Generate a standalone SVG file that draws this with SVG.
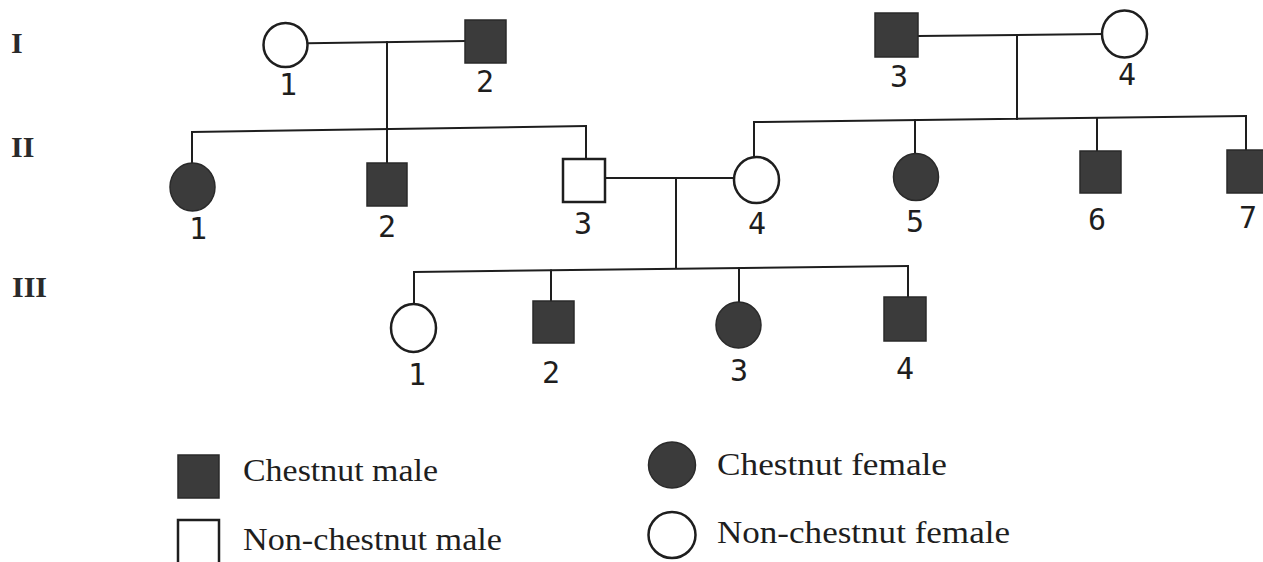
<svg xmlns="http://www.w3.org/2000/svg" width="1263" height="562" viewBox="0 0 1263 562">
<style>
.bg{fill:#ffffff}
.ln{stroke:#1e1e1e;stroke-width:2;fill:none;stroke-linecap:square}
.aff{fill:#3b3b3b;stroke:#2a2a2a;stroke-width:1.5}
.unf{fill:#ffffff;stroke:#1e1e1e;stroke-width:2.5}
.num{font-family:"DejaVu Sans Mono","Liberation Mono",monospace;font-size:30px;fill:#1e1e1e;text-anchor:middle}
.gen{font-family:"Liberation Serif","DejaVu Serif",serif;font-size:30px;font-weight:bold;fill:#2a2a2a}
.leg{font-family:"Liberation Serif","DejaVu Serif",serif;font-size:32px;fill:#1e1e1e}
</style>
<rect class="bg" x="0" y="0" width="1263" height="562"/>

<g id="generation-labels">
<text class="gen" x="11" y="53">I</text>
<text class="gen" x="11" y="157">II</text>
<text class="gen" x="12" y="297">III</text>
</g>

<g id="connectors">
<line class="ln" x1="308" y1="43.3" x2="465" y2="41"/>
<line class="ln" x1="387" y1="42" x2="387" y2="163"/>
<line class="ln" x1="918" y1="36" x2="1102" y2="34"/>
<line class="ln" x1="1017" y1="35" x2="1017" y2="119"/>
<line class="ln" x1="192" y1="132" x2="586" y2="126"/>
<line class="ln" x1="192" y1="132" x2="192" y2="163"/>
<line class="ln" x1="586" y1="126" x2="586" y2="159"/>
<line class="ln" x1="754" y1="122" x2="1246" y2="116"/>
<line class="ln" x1="754" y1="122" x2="754" y2="158"/>
<line class="ln" x1="915" y1="120" x2="915" y2="154"/>
<line class="ln" x1="1097" y1="118.5" x2="1097" y2="151"/>
<line class="ln" x1="1246" y1="116" x2="1246" y2="150"/>
<line class="ln" x1="605" y1="178" x2="734" y2="178"/>
<line class="ln" x1="676" y1="178" x2="676" y2="268"/>
<line class="ln" x1="414" y1="272" x2="908" y2="266"/>
<line class="ln" x1="414" y1="272" x2="414" y2="304"/>
<line class="ln" x1="551" y1="270.5" x2="551" y2="301"/>
<line class="ln" x1="739" y1="268" x2="739" y2="302"/>
<line class="ln" x1="908" y1="266" x2="908" y2="297"/>
</g>

<g id="I-1"><circle class="unf" cx="285.5" cy="45" r="22"/><text class="num" x="288" y="95">1</text></g>
<g id="I-2"><rect class="aff" x="465" y="20" width="41" height="43"/><text class="num" x="485" y="92">2</text></g>
<g id="I-3"><rect class="aff" x="875" y="13" width="43" height="44"/><text class="num" x="899" y="87">3</text></g>
<g id="I-4"><ellipse class="unf" cx="1124.5" cy="34" rx="22.5" ry="23.5"/><text class="num" x="1127" y="85">4</text></g>

<g id="II-1"><ellipse class="aff" cx="192.5" cy="187" rx="22.5" ry="24"/><text class="num" x="198" y="239">1</text></g>
<g id="II-2"><rect class="aff" x="367" y="163" width="40" height="43"/><text class="num" x="387" y="237">2</text></g>
<g id="II-3"><rect class="unf" x="563" y="159" width="42" height="43"/><text class="num" x="583" y="234">3</text></g>
<g id="II-4"><ellipse class="unf" cx="756.5" cy="180" rx="22.5" ry="23"/><text class="num" x="757" y="234">4</text></g>
<g id="II-5"><ellipse class="aff" cx="916" cy="177" rx="22.5" ry="23.5"/><text class="num" x="915" y="232">5</text></g>
<g id="II-6"><rect class="aff" x="1080" y="151" width="41" height="42"/><text class="num" x="1097" y="230">6</text></g>
<g id="II-7"><rect class="aff" x="1227" y="150" width="40" height="43"/><text class="num" x="1248" y="228">7</text></g>

<g id="III-1"><ellipse class="unf" cx="413.5" cy="328" rx="22.5" ry="24"/><text class="num" x="417" y="385">1</text></g>
<g id="III-2"><rect class="aff" x="533" y="301" width="41" height="42"/><text class="num" x="551" y="383">2</text></g>
<g id="III-3"><ellipse class="aff" cx="738.5" cy="325" rx="22.5" ry="23"/><text class="num" x="739" y="381">3</text></g>
<g id="III-4"><rect class="aff" x="884" y="297" width="42" height="44"/><text class="num" x="905" y="379">4</text></g>

<g id="legend">
<g id="legend-chestnut-male"><rect class="aff" x="178" y="455" width="41" height="43"/><text class="leg" x="243" y="481" textLength="195" lengthAdjust="spacingAndGlyphs">Chestnut male</text></g>
<g id="legend-nonchestnut-male"><rect class="unf" x="178" y="520" width="41" height="44"/><text class="leg" x="243" y="550" textLength="259" lengthAdjust="spacingAndGlyphs">Non-chestnut male</text></g>
<g id="legend-chestnut-female"><ellipse class="aff" cx="672" cy="465" rx="23.5" ry="23"/><text class="leg" x="717" y="475" textLength="230" lengthAdjust="spacingAndGlyphs">Chestnut female</text></g>
<g id="legend-nonchestnut-female"><ellipse class="unf" cx="672" cy="535" rx="23.5" ry="23"/><text class="leg" x="717" y="543" textLength="293" lengthAdjust="spacingAndGlyphs">Non-chestnut female</text></g>
</g>
</svg>
